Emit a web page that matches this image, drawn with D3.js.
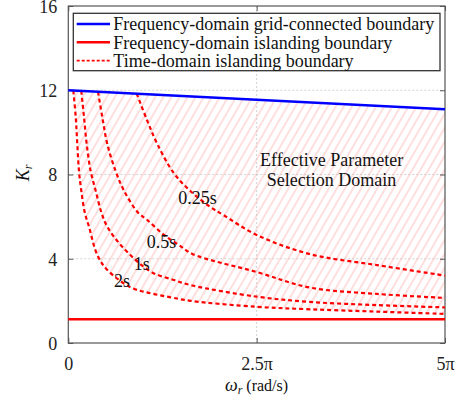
<!DOCTYPE html>
<html>
<head>
<meta charset="utf-8">
<script src="https://cdn.jsdelivr.net/npm/d3@7"></script>
<style>
  html, body { margin: 0; padding: 0; background: #fff; }
  svg { display: block; font-family: "Liberation Serif", "Times New Roman", serif; }
  text { font-family: "Liberation Serif", "Times New Roman", serif; }
</style>
</head>
<body>
<svg id="chart" width="461" height="398"></svg>
<script>
// ---------- data ----------
const PI = Math.PI;
const xTickValues = [0, 2.5 * PI, 5 * PI];
const xTickLabels = ["0", "2.5π", "5π"];
const yTickValues = [0, 4, 8, 12, 16];
const yTickLabels = ["0", "4", "8", "12", "16"];

const gridOmega = [0, 5 * PI];
const gridK = [12.0, 11.1];          // frequency-domain grid-connected boundary
const islandOmega = [0, 5 * PI];
const islandK = [1.13, 1.13];        // frequency-domain islanding boundary

const omega_025s = [2.85, 3.294, 3.711, 4.378, 5.075, 5.91, 6.463, 7.854, 10.08, 12.87, 15.708];
const K_025s     = [11.85, 10.55, 9.45, 8.1, 7.23, 6.47, 6.08, 5.13, 4.22, 3.70, 3.2];
const omega_05s  = [1.238, 1.418, 1.626, 1.977, 2.323, 2.9, 3.294, 3.99, 4.616, 5.17, 7.854, 10.08, 12.87, 15.708];
const K_05s      = [11.93, 10.72, 9.45, 8.15, 7.23, 6.2, 5.84, 5.13, 4.65, 4.23, 3.37, 2.63, 2.33, 2.14];
const omega_1s   = [0.542, 0.655, 0.767, 0.934, 1.143, 1.376, 1.626, 2.252, 3.436, 4.408, 5.17, 7.854, 10.08, 12.87, 15.708];
const K_1s       = [11.97, 10.72, 9.45, 8.15, 7.23, 6.21, 5.52, 4.57, 3.39, 2.99, 2.73, 2.2, 1.95, 1.8, 1.69];
const omega_2s   = [0.21, 0.31, 0.375, 0.446, 0.542, 0.684, 0.863, 1.209, 1.626, 2.602, 3.436, 4.27, 5.1, 7.854, 10.08, 12.87, 15.708];
const K_2s       = [11.99, 10.72, 9.45, 8.15, 7.23, 6.21, 5.52, 4.18, 3.47, 2.64, 2.36, 2.17, 2.0, 1.72, 1.6, 1.49, 1.38];

const curveNames = ["0.25s", "0.5s", "1s", "2s"];
const curveLabelOmega = [5.39, 3.89, 3.06, 2.24];
const curveLabelK = [6.92, 4.81, 3.78, 2.96];

const legendLabels = [
  "Frequency-domain grid-connected boundary",
  "Frequency-domain islanding boundary",
  "Time-domain islanding boundary"
];
const annotationLines = ["Effective Parameter", "Selection Domain"];
const annotationOmega = 10.98;
const annotationK = [8.69, 7.74];

// ---------- layout ----------
const FONT = '"Liberation Serif", "Times New Roman", serif';
const svg = d3.select("#chart");
const mLeft = 68.3, mRight = 445, mTop = 6, mBottom = 343;
const x = d3.scaleLinear().domain([0, 5 * PI]).range([mLeft, mRight]);
const y = d3.scaleLinear().domain([0, 16]).range([mBottom, mTop]);

const zip = (a, b) => a.map((v, i) => [v, b[i]]);
const lineGen = d3.line().x(d => x(d[0])).y(d => y(d[1]));
const smooth = d3.line().x(d => x(d[0])).y(d => y(d[1])).curve(d3.curveCatmullRom.alpha(0.5));

// hatch pattern
const defs = svg.append("defs");
const pat = defs.append("pattern")
  .attr("id", "hatch").attr("patternUnits", "userSpaceOnUse")
  .attr("width", 7).attr("height", 20)
  .attr("patternTransform", "rotate(30)");
pat.append("line").attr("x1", 1).attr("x2", 1).attr("y1", -2).attr("y2", 22)
  .attr("stroke", "#ffd6d6").attr("stroke-width", 1.6);

// hatch region: between grid-connected boundary and 2s curve
const pts2 = zip(omega_2s, K_2s);
const gridAt = w => gridK[0] + (gridK[1] - gridK[0]) * (w - gridOmega[0]) / (gridOmega[1] - gridOmega[0]);
const regionD = smooth(pts2) +
  "L" + x(gridOmega[1]) + "," + y(gridK[1]) +
  "L" + x(omega_2s[0]) + "," + y(gridAt(omega_2s[0])) + "Z";
svg.append("path").attr("d", regionD).attr("fill", "url(#hatch)").attr("stroke", "none");

// grid lines
const gridG = svg.append("g");
[4, 8, 12].forEach(v => {
  gridG.append("line").attr("x1", mLeft).attr("x2", mRight).attr("y1", y(v)).attr("y2", y(v))
    .attr("stroke", "#c8c8c8").attr("stroke-width", 0.8).attr("stroke-dasharray", "2,2");
});
gridG.append("line").attr("x1", x(2.5 * PI)).attr("x2", x(2.5 * PI)).attr("y1", mTop).attr("y2", mBottom)
  .attr("stroke", "#c8c8c8").attr("stroke-width", 0.8).attr("stroke-dasharray", "2,2");

// axes
const axisColor = "#555";
const xAxis = svg.append("g").attr("transform", `translate(0,${mBottom})`)
  .call(d3.axisBottom(x).tickValues(xTickValues).tickFormat((d, i) => xTickLabels[i]).tickSizeInner(-5).tickSizeOuter(0).tickPadding(27));
const yAxis = svg.append("g").attr("transform", `translate(${mLeft},0)`)
  .call(d3.axisLeft(y).tickValues(yTickValues).tickFormat((d, i) => yTickLabels[i]).tickSizeInner(-5).tickSizeOuter(0).tickPadding(11));
const xAxisTop = svg.append("g").attr("transform", `translate(0,${mTop})`)
  .call(d3.axisTop(x).tickValues(xTickValues).tickFormat("").tickSizeInner(-5).tickSizeOuter(0));
const yAxisRight = svg.append("g").attr("transform", `translate(${mRight},0)`)
  .call(d3.axisRight(y).tickValues(yTickValues).tickFormat("").tickSizeInner(-5).tickSizeOuter(0));
[xAxis, yAxis, xAxisTop, yAxisRight].forEach(g => {
  g.attr("font-family", FONT);
  g.select(".domain").remove();
  g.selectAll("line").attr("stroke", axisColor);
  g.selectAll("text").attr("fill", "#222").attr("font-family", FONT).style("font-size", "18px");
});
yAxis.selectAll("text").attr("dy", "0.35em");
xAxis.selectAll("text").attr("dy", "0");

svg.append("rect").attr("x", mLeft).attr("y", mTop).attr("width", mRight - mLeft).attr("height", mBottom - mTop)
  .attr("fill", "none").attr("stroke", axisColor).attr("stroke-width", 1.2);

// lines
svg.append("path").attr("d", lineGen(zip(islandOmega, islandK)))
  .attr("fill", "none").attr("stroke", "#ff0000").attr("stroke-width", 2.4);

const curves = [zip(omega_025s, K_025s), zip(omega_05s, K_05s), zip(omega_1s, K_1s), pts2];
curves.forEach(c => {
  svg.append("path").attr("d", smooth(c)).attr("fill", "none")
    .attr("stroke", "#ff0000").attr("stroke-width", 2.2).attr("stroke-dasharray", "4,3");
});

svg.append("path").attr("d", lineGen(zip(gridOmega, gridK)))
  .attr("fill", "none").attr("stroke", "#0000ff").attr("stroke-width", 2.4);

// curve labels
curveNames.forEach((n, i) => {
  svg.append("text").attr("x", x(curveLabelOmega[i])).attr("y", y(curveLabelK[i]))
    .attr("text-anchor", "middle").attr("dy", "0.35em").attr("font-family", FONT)
    .style("font-size", "18px").attr("fill", "#111").text(n);
});

// annotation
annotationLines.forEach((t, i) => {
  svg.append("text").attr("x", x(annotationOmega)).attr("y", y(annotationK[i]))
    .attr("text-anchor", "middle").attr("dy", "0.35em").attr("font-family", FONT)
    .style("font-size", "18px").attr("fill", "#111").text(t);
});

// legend
const lg = svg.append("g");
lg.append("rect").attr("x", 73.3).attr("y", 13.3).attr("width", 366.7).attr("height", 57.4)
  .attr("fill", "#fff").attr("stroke", "#333").attr("stroke-width", 1.3);
const legendStyles = [
  { color: "#0000ff", dash: null },
  { color: "#ff0000", dash: null },
  { color: "#ff0000", dash: "3,2" }
];
legendLabels.forEach((t, i) => {
  const cy = 24 + i * 18.3;
  lg.append("line").attr("x1", 76.7).attr("x2", 110).attr("y1", cy).attr("y2", cy)
    .attr("stroke", legendStyles[i].color).attr("stroke-width", legendStyles[i].dash ? 1.8 : 2.4)
    .attr("stroke-dasharray", legendStyles[i].dash);
  lg.append("text").attr("x", 113.3).attr("y", cy).attr("dy", "0.35em").attr("font-family", FONT)
    .style("font-size", "18px").attr("fill", "#111").text(t);
});

// axis titles
const xt = svg.append("text").attr("x", 256.5).attr("y", 391).attr("text-anchor", "middle")
  .attr("fill", "#111").attr("font-family", FONT);
xt.append("tspan").style("font-style", "italic").style("font-size", "18px").text("ω");
xt.append("tspan").style("font-style", "italic").style("font-size", "12px").attr("dy", 3).text("r");
xt.append("tspan").style("font-size", "16px").attr("dy", -3).text(" (rad/s)");

const yt = svg.append("text").attr("transform", "translate(29,173) rotate(-90)").attr("text-anchor", "middle")
  .attr("fill", "#111").attr("font-family", FONT);
yt.append("tspan").style("font-style", "italic").style("font-size", "18px").text("K");
yt.append("tspan").style("font-style", "italic").style("font-size", "12px").attr("dy", 3).text("r");
</script>
</body>
</html>
